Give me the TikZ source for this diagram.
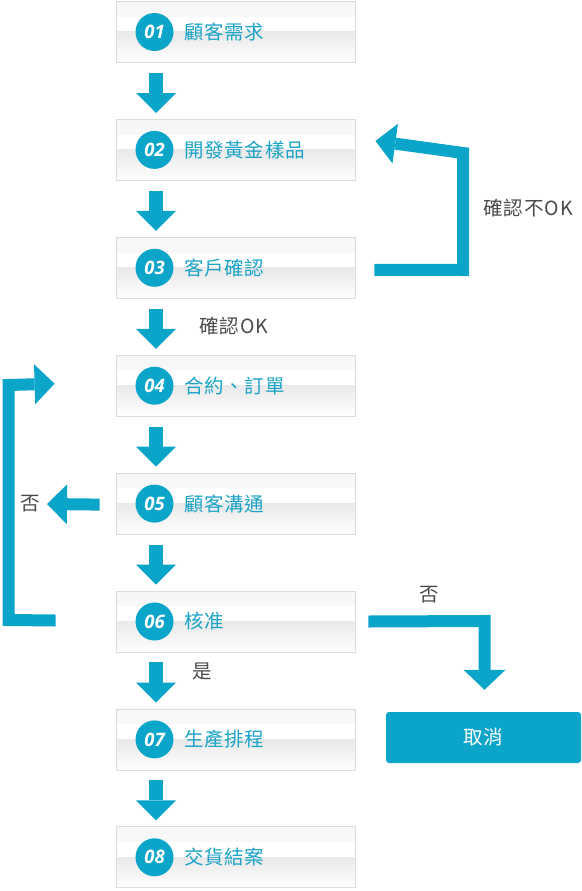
\documentclass[tikz,border=0pt]{standalone}
\usepackage{fontspec}
\usetikzlibrary{arrows.meta,calc}
\newfontfamily\cjk{Noto Sans CJK TC}[LetterSpace=3]
\newfontfamily\cjknote{Noto Sans CJK TC}[LetterSpace=5]
\newfontfamily\numfont{Open Sans}
\definecolor{mainblue}{HTML}{0CA5CA}
\definecolor{labelblue}{HTML}{1AA3C6}
\definecolor{boxborder}{HTML}{DCDCDC}
\definecolor{boxgray}{HTML}{E9E9E9}
\definecolor{txtgray}{HTML}{4A4A4A}
\tikzset{
  stepbox/.style={draw=boxborder, line width=0.8pt, minimum width=239pt, minimum height=61pt, inner sep=0pt,
    path picture={
      \shade[top color=boxgray!40, bottom color=white] (path picture bounding box.north west) rectangle ($(path picture bounding box.north east)!0.25!(path picture bounding box.south east)$);
      \fill[white] ($(path picture bounding box.north west)!0.25!(path picture bounding box.south west)$) rectangle (path picture bounding box.east);
      \shade[top color=boxgray, bottom color=white] (path picture bounding box.west) rectangle (path picture bounding box.south east);
    }},
  numcircle/.style={circle, fill=mainblue, minimum size=38pt, inner sep=0pt, text=white, font=\numfont\bfseries\itshape\fontsize{18.5}{18.5}\selectfont},
  steplabel/.style={anchor=west, inner sep=0pt, text=labelblue, font=\cjk\fontsize{19.5}{19.5}\selectfont},
  note/.style={inner sep=0pt, text=txtgray, font=\cjknote\fontsize{19.5}{19.5}\selectfont},
  downarrow/.style={draw=mainblue, line width=13.5pt, -{Triangle[width=40pt,length=20pt,line width=0pt]}},
  looparrow/.style={draw=mainblue, line width=12pt, line join=miter, -{Triangle[width=40pt,length=20pt,line width=0pt]}},
  cancelbox/.style={fill=mainblue, rounded corners=3pt, minimum width=195pt, minimum height=51pt, inner sep=0pt, text=white, font=\cjk\fontsize{19.5}{19.5}\selectfont},
}
\begin{document}
\begin{tikzpicture}[x=1pt,y=-1pt]
\useasboundingbox (0,0) rectangle (581,891);
% step boxes
\foreach \i/\t in {1/顧客需求,2/開發黃金樣品,3/客戶確認,4/合約、訂單,5/顧客溝通,6/核准,7/生產排程,8/交貨結案}{
  \pgfmathsetmacro{\cy}{32+(\i-1)*117.9}
  \node[stepbox] (b\i) at (235.5,\cy) {};
  \node[numcircle] (c\i) at (154.5,\cy) {0\i};
  \node[steplabel] (t\i) at (184.5,\cy) {\t};
}
% down arrows
\foreach \i [evaluate=\i as \j using int(\i+1)] in {1,...,7}{
  \draw[downarrow] ($(c\i|-b\i.south)+(1.5,10)$) -- ($(c\j|-b\j.north)+(1.5,-6)$);
}
% labels
\node[note, anchor=west] (ok) at (199,326) {確認OK};
\node[note, anchor=west] (yes) at (192,671) {是};
\node[note, anchor=west] (notok) at (483,208) {確認不OK};
\node[note] (no1) at (30,504) {否};
\node[note] (no2) at (429,595) {否};
% cancel box
\node[cancelbox] (cancel) at (483.5,737.5) {取消};
% loops
\coordinate (r1) at ($(b3.east)+(19,2)$);
\coordinate (r2) at ($(b2.east)+(20,-9)$);
\draw[looparrow] (r1) -- (463,270) -- (463,153) -- (r2);
\coordinate (l1) at ($(b6.west)+(-60,-1)$);
\coordinate (l2) at ($(b4.west)+(-61,-2)$);
\draw[looparrow] (l1) -- (8.5,620) -- (8.5,385) -- (l2);
\coordinate (s1) at ($(b5.west)+(-16,1)$);
\draw[looparrow] (s1) -- (47,504);
\coordinate (q1) at ($(b6.east)+(13,0)$);
\draw[looparrow, -{Triangle[width=42pt,length=20pt,line width=0pt]}] (q1) -- (484.5,621) -- ($(cancel.north)+(1,-22)$);
\end{tikzpicture}
\end{document}
